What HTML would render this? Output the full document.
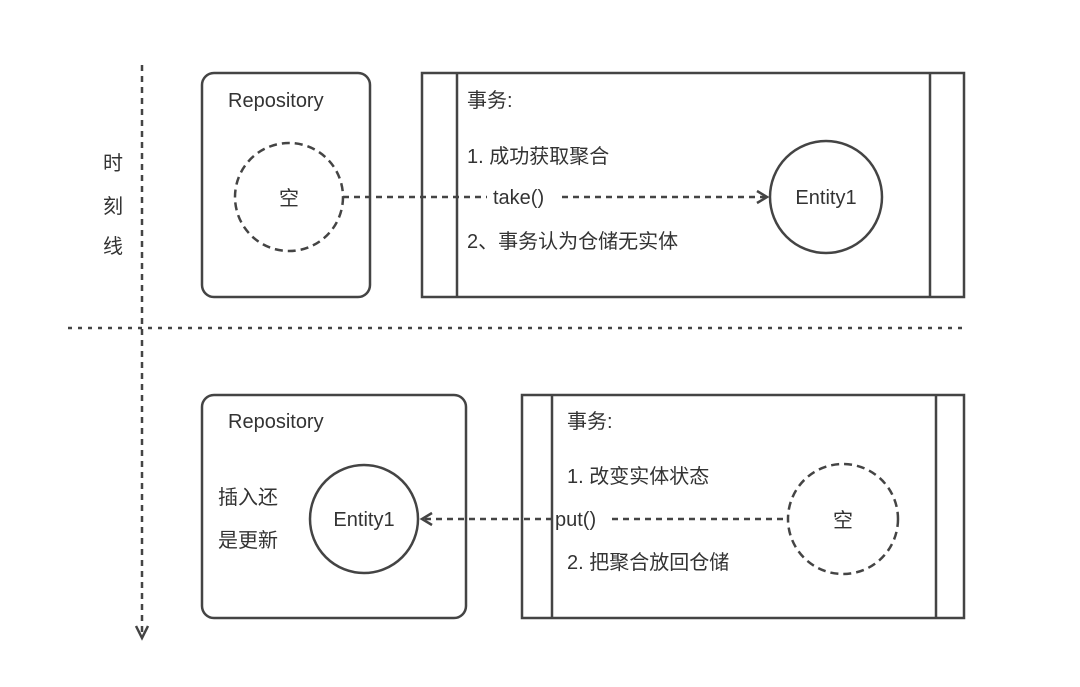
<!DOCTYPE html>
<html><head><meta charset="utf-8"><style>
html,body{margin:0;padding:0;background:#fff;}
svg{display:block;}
text{font-family:"Liberation Sans","Noto Sans CJK SC",sans-serif;font-size:20px;fill:#333;}
</style></head><body>
<svg width="1080" height="687" viewBox="0 0 1080 687" xmlns="http://www.w3.org/2000/svg">
<g stroke="#444" fill="none" stroke-width="2.5">
<!-- timeline -->
<line x1="142" y1="65" x2="142" y2="632" stroke-dasharray="6,5"/>
<polyline points="136,626 142,638 148,626"/>
<line x1="68" y1="328" x2="965" y2="328" stroke-dasharray="4,6"/>
<!-- top -->
<rect x="202" y="73" width="168" height="224" rx="12"/>
<circle cx="289" cy="197" r="54" stroke-dasharray="8,5"/>
<rect x="422" y="73" width="542" height="224"/>
<line x1="457" y1="73" x2="457" y2="297"/>
<line x1="930" y1="73" x2="930" y2="297"/>
<circle cx="826" cy="197" r="56"/>
<line x1="343" y1="197" x2="487" y2="197" stroke-dasharray="6,5"/>
<line x1="562" y1="197" x2="766" y2="197" stroke-dasharray="6,5"/>
<polyline points="757,191 767,197 757,203"/>
<!-- bottom -->
<rect x="202" y="395" width="264" height="223" rx="12"/>
<circle cx="364" cy="519" r="54"/>
<rect x="522" y="395" width="442" height="223"/>
<line x1="552" y1="395" x2="552" y2="618"/>
<line x1="936" y1="395" x2="936" y2="618"/>
<circle cx="843" cy="519" r="55" stroke-dasharray="8,5"/>
<line x1="612" y1="519" x2="787" y2="519" stroke-dasharray="6,5"/>
<line x1="425" y1="519" x2="552" y2="519" stroke-dasharray="6,5"/>
<polyline points="432,513 422,519 432,525"/>
</g>
<text x="113" y="170" text-anchor="middle">时</text>
<text x="113" y="213" text-anchor="middle">刻</text>
<text x="113" y="253" text-anchor="middle">线</text>
<text x="228" y="107">Repository</text>
<text x="289" y="205" text-anchor="middle">空</text>
<text x="467" y="107">事务:</text>
<text x="467" y="163">1. 成功获取聚合</text>
<text x="493" y="204">take()</text>
<text x="467" y="248">2、事务认为仓储无实体</text>
<text x="826" y="204" text-anchor="middle">Entity1</text>
<text x="228" y="428">Repository</text>
<text x="218" y="504">插入还</text>
<text x="218" y="547">是更新</text>
<text x="364" y="526" text-anchor="middle">Entity1</text>
<text x="567" y="428">事务:</text>
<text x="567" y="483">1. 改变实体状态</text>
<text x="555" y="526">put()</text>
<text x="567" y="569">2. 把聚合放回仓储</text>
<text x="843" y="527" text-anchor="middle">空</text>
</svg>
</body></html>
